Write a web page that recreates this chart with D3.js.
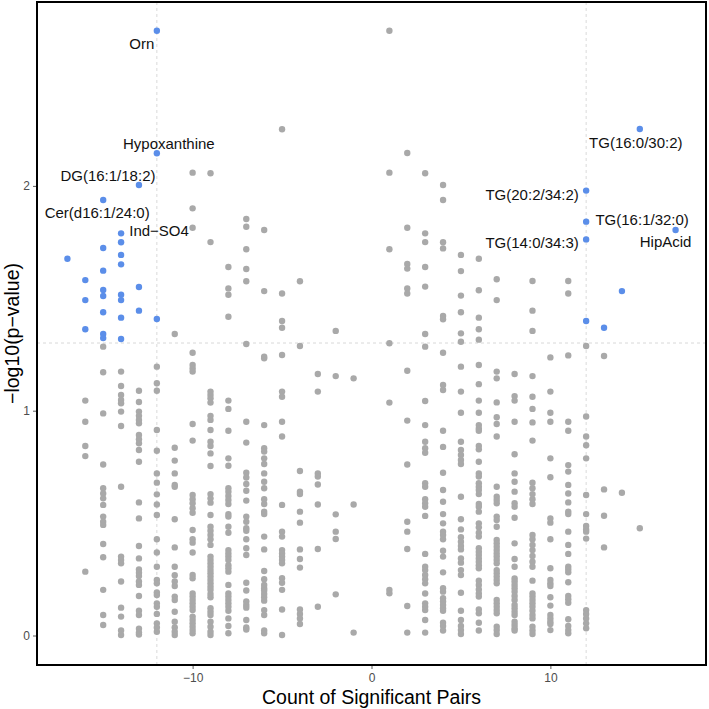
<!DOCTYPE html>
<html><head><meta charset="utf-8">
<script src="https://cdn.jsdelivr.net/npm/d3@7"></script>
<style>html,body{margin:0;padding:0;background:#fff;}svg{display:block;}</style>
</head><body>
<script>
// ---- data ----
const countX = [-17,-16,-15,-14,-13,-12,-11,-10,-9,-8,-7,-6,-5,-4,-3,-2,-1,1,2,3,4,5,6,7,8,9,10,11,12,13,14,15,17];
const pvalues = [
 [1.676],
 [1.581,1.492,1.362,1.045,0.951,0.843,0.798,0.284],
 [1.937,1.724,1.623,1.537,1.510,1.438,1.341,1.323,1.285,1.171,0.988,0.761,0.655,0.632,0.610,0.581,0.529,0.506,0.492,0.407,0.348,0.203,0.091,0.047],
 [1.789,1.749,1.693,1.651,1.516,1.492,1.414,1.319,1.174,1.110,1.070,1.048,1.033,0.996,0.932,0.662,0.351,0.336,0.321,0.240,0.124,0.084,0.022,0.002],
 [2.004,1.550,1.445,1.089,1.039,0.996,0.977,0.959,0.944,0.892,0.873,0.855,0.825,0.773,0.592,0.521,0.398,0.343,0.294,0.279,0.265,0.240,0.225,0.176,0.110,0.091,0.030,0.013,0.004],
 [2.690,2.145,1.408,1.196,1.122,1.089,0.914,0.822,0.721,0.680,0.628,0.583,0.536,0.428,0.369,0.306,0.247,0.232,0.192,0.180,0.143,0.128,0.096,0.054,0.036,0.017],
 [1.341,0.835,0.778,0.721,0.670,0.662,0.517,0.392,0.306,0.268,0.240,0.220,0.173,0.158,0.106,0.061,0.036,0.017,0.002],
 [2.059,1.900,1.814,1.258,1.203,1.188,1.174,0.941,0.867,0.625,0.606,0.588,0.566,0.546,0.469,0.428,0.413,0.369,0.269,0.255,0.187,0.173,0.158,0.143,0.128,0.113,0.084,0.069,0.054,0.039,0.024,0.010],
 [2.056,1.750,1.085,1.070,1.055,1.036,0.977,0.959,0.914,0.862,0.843,0.810,0.754,0.629,0.610,0.591,0.536,0.484,0.466,0.447,0.428,0.403,0.351,0.336,0.321,0.306,0.291,0.277,0.262,0.247,0.232,0.217,0.203,0.185,0.170,0.121,0.106,0.091,0.061,0.039,0.017,0.002],
 [1.639,1.544,1.516,1.418,1.045,1.008,0.911,0.788,0.755,0.655,0.640,0.621,0.603,0.585,0.540,0.529,0.484,0.457,0.380,0.365,0.351,0.336,0.313,0.299,0.284,0.225,0.187,0.173,0.158,0.143,0.128,0.110,0.076,0.042,0.010],
 [1.853,1.818,1.718,1.630,1.576,1.297,0.951,0.858,0.724,0.703,0.674,0.644,0.600,0.529,0.506,0.477,0.466,0.428,0.388,0.358,0.235,0.200,0.151,0.136,0.124,0.069,0.036,0.027],
 [1.804,1.532,1.240,1.233,0.936,0.833,0.818,0.788,0.763,0.721,0.684,0.655,0.606,0.585,0.551,0.540,0.440,0.383,0.287,0.250,0.225,0.210,0.200,0.185,0.170,0.155,0.113,0.091,0.022,0.010],
 [2.252,1.521,1.399,1.369,1.248,1.085,1.062,0.951,0.885,0.581,0.462,0.440,0.380,0.365,0.351,0.336,0.321,0.255,0.235,0.203,0.116,0.002],
 [1.576,1.288,0.732,0.640,0.629,0.551,0.502,0.383,0.340,0.302,0.116,0.096,0.076,0.051],
 [1.163,1.085,0.721,0.707,0.672,0.583,0.385,0.128],
 [1.355,1.154,0.539,0.462,0.429,0.183],
 [1.144,0.583,0.013],
 [2.690,2.059,1.718,1.300,1.036,0.203,0.188],
 [2.146,1.814,1.653,1.632,1.544,1.521,1.178,0.956,0.761,0.506,0.462,0.385,0.131,0.013],
 [2.056,1.789,1.750,1.639,1.552,1.341,1.285,1.043,0.936,0.862,0.833,0.813,0.677,0.662,0.606,0.588,0.573,0.532,0.363,0.306,0.291,0.269,0.250,0.232,0.187,0.143,0.128,0.113,0.069,0.013],
 [2.004,1.937,1.749,1.722,1.421,1.407,1.258,1.114,1.092,0.911,0.839,0.724,0.647,0.595,0.540,0.499,0.462,0.447,0.428,0.377,0.351,0.281,0.210,0.195,0.166,0.151,0.136,0.121,0.110,0.057,0.042,0.022],
 [1.693,1.621,1.512,1.438,1.344,1.307,1.196,1.085,0.991,0.862,0.825,0.803,0.781,0.763,0.617,0.517,0.472,0.437,0.417,0.398,0.383,0.343,0.324,0.291,0.269,0.190,0.110,0.069,0.042,0.024,0.007],
 [1.676,1.536,1.414,1.362,1.316,1.203,1.118,1.045,0.991,0.936,0.921,0.911,0.843,0.828,0.773,0.721,0.707,0.677,0.662,0.647,0.629,0.585,0.573,0.551,0.499,0.481,0.457,0.440,0.388,0.373,0.358,0.343,0.328,0.313,0.299,0.244,0.225,0.205,0.187,0.173,0.116,0.099,0.057,0.022],
 [1.585,1.492,1.174,1.144,1.037,0.971,0.941,0.885,0.662,0.617,0.603,0.588,0.529,0.514,0.484,0.425,0.410,0.395,0.380,0.365,0.351,0.336,0.321,0.291,0.277,0.262,0.247,0.232,0.158,0.143,0.128,0.113,0.099,0.039,0.024,0.007],
 [1.163,1.065,1.045,0.951,0.806,0.721,0.684,0.640,0.588,0.573,0.524,0.410,0.340,0.306,0.254,0.240,0.225,0.210,0.195,0.176,0.158,0.136,0.121,0.106,0.091,0.061,0.047,0.032,0.022],
 [1.577,1.445,1.355,1.154,1.062,1.008,0.948,0.867,0.680,0.655,0.629,0.606,0.585,0.447,0.428,0.403,0.380,0.354,0.328,0.306,0.244,0.187,0.173,0.158,0.143,0.128,0.110,0.091,0.076,0.039,0.022,0.007],
 [1.237,1.085,0.991,0.951,0.788,0.704,0.521,0.502,0.428,0.299,0.247,0.232,0.220,0.170,0.133,0.091,0.076,0.061,0.051,0.024],
 [1.577,1.521,1.246,0.951,0.911,0.758,0.729,0.670,0.632,0.592,0.551,0.540,0.462,0.403,0.363,0.306,0.294,0.281,0.237,0.176,0.161,0.146,0.072,0.042,0.024,0.010],
 [1.979,1.841,1.762,1.399,1.288,0.974,0.885,0.846,0.788,0.625,0.540,0.487,0.472,0.462,0.431,0.113,0.096,0.076,0.054,0.032],
 [1.369,1.243,0.650,0.533,0.392],
 [1.532,0.635],
 [2.253,0.477],
 [1.804]
];
const labelNames = ["Orn","Hypoxanthine","DG(16:1/18:2)","Cer(d16:1/24:0)","Ind\u2212SO4","TG(16:0/30:2)","TG(20:2/34:2)","TG(16:1/32:0)","TG(14:0/34:3)","HipAcid"];
const labelX = [-12,-12,-13,-15,-14,15,12,12,12,17];
const labelY = [2.690,2.145,2.004,1.937,1.789,2.253,1.979,1.841,1.762,1.804];
const xTicks = [-10,0,10];
const yTicks = [0,1,2];
const pThreshold = 0.05;
const countThreshold = 12;

// ---- layout ----
const W = 709, H = 709;
const panel = {left:37, right:706, top:2, bottom:665};
const labelOffsets = [[-15,12.5],[12,-10],[-31,-9],[-6,12],[38,-2.5],[-4,13],[-54,3.5],[56,-2.5],[-54,3.6],[-10,12]];

const svg = d3.select("body").append("svg").attr("width",W).attr("height",H)
  .style("font-family","'Liberation Sans', Arial, Helvetica, sans-serif");

const x = d3.scaleLinear().domain([-18.7,18.7]).range([panel.left,panel.right]);
const y = d3.scaleLinear().domain([-0.1312,2.818]).range([panel.bottom,panel.top]);

const points = [];
countX.forEach((c,i)=>pvalues[i].forEach(v=>points.push({c,v})));
const sigY = -Math.log10(pThreshold);

// reference lines
const refs = svg.append("g").attr("stroke","#cfcfcf").attr("stroke-width",0.8).attr("stroke-dasharray","3,3");
[-countThreshold,countThreshold].forEach(c=>refs.append("line").attr("x1",x(c)).attr("x2",x(c)).attr("y1",panel.top).attr("y2",panel.bottom));
refs.append("line").attr("x1",panel.left).attr("x2",panel.right).attr("y1",y(sigY)).attr("y2",y(sigY));

// points
const isSig = d => Math.abs(d.c)>=countThreshold && d.v>sigY;
svg.append("g").selectAll("circle").data(points.filter(d=>!isSig(d)).concat(points.filter(isSig))).join("circle")
  .attr("cx",d=>x(d.c)).attr("cy",d=>y(d.v)).attr("r",3.2)
  .attr("fill",d=>isSig(d)?"#5b8ee9":"#a9a9a9");

// labels
svg.append("g").selectAll("text").data(labelNames).join("text")
  .attr("x",(d,i)=>x(labelX[i])+labelOffsets[i][0])
  .attr("y",(d,i)=>y(labelY[i])+labelOffsets[i][1])
  .attr("text-anchor","middle").attr("dominant-baseline","central")
  .attr("font-size",15).attr("fill","#111").text(d=>d);

// axes
const xAxis = svg.append("g").attr("transform",`translate(0,${panel.bottom})`)
  .call(d3.axisBottom(x).tickValues(xTicks).tickSize(4).tickPadding(4).tickFormat(d=>d<0?"\u2212"+Math.abs(d):String(d)));
const yAxis = svg.append("g").attr("transform",`translate(${panel.left},0)`)
  .call(d3.axisLeft(y).tickValues(yTicks).tickSize(4).tickPadding(3).tickFormat(d3.format("d")));
[xAxis,yAxis].forEach(a=>{
  a.select(".domain").remove();
  a.selectAll(".tick line").attr("stroke","#333").attr("stroke-width",0.8);
  a.selectAll(".tick text").attr("fill","#4d4d4d").attr("font-size",12).attr("font-family","'Liberation Sans', Arial, sans-serif");
});

// panel border
svg.append("rect").attr("x",panel.left).attr("y",panel.top)
  .attr("width",panel.right-panel.left).attr("height",panel.bottom-panel.top)
  .attr("fill","none").attr("stroke","#000").attr("stroke-width",2);

// titles
svg.append("text").attr("x",(panel.left+panel.right)/2).attr("y",697)
  .attr("text-anchor","middle").attr("dominant-baseline","central")
  .attr("font-size",19.5).attr("fill","#000").text("Count of Significant Pairs");
svg.append("text").attr("transform",`translate(12,${(panel.top+panel.bottom)/2}) rotate(-90)`)
  .attr("text-anchor","middle").attr("dominant-baseline","central")
  .attr("font-size",19.5).attr("fill","#000").text("\u2212log10(p\u2212value)");
</script>
</body></html>
